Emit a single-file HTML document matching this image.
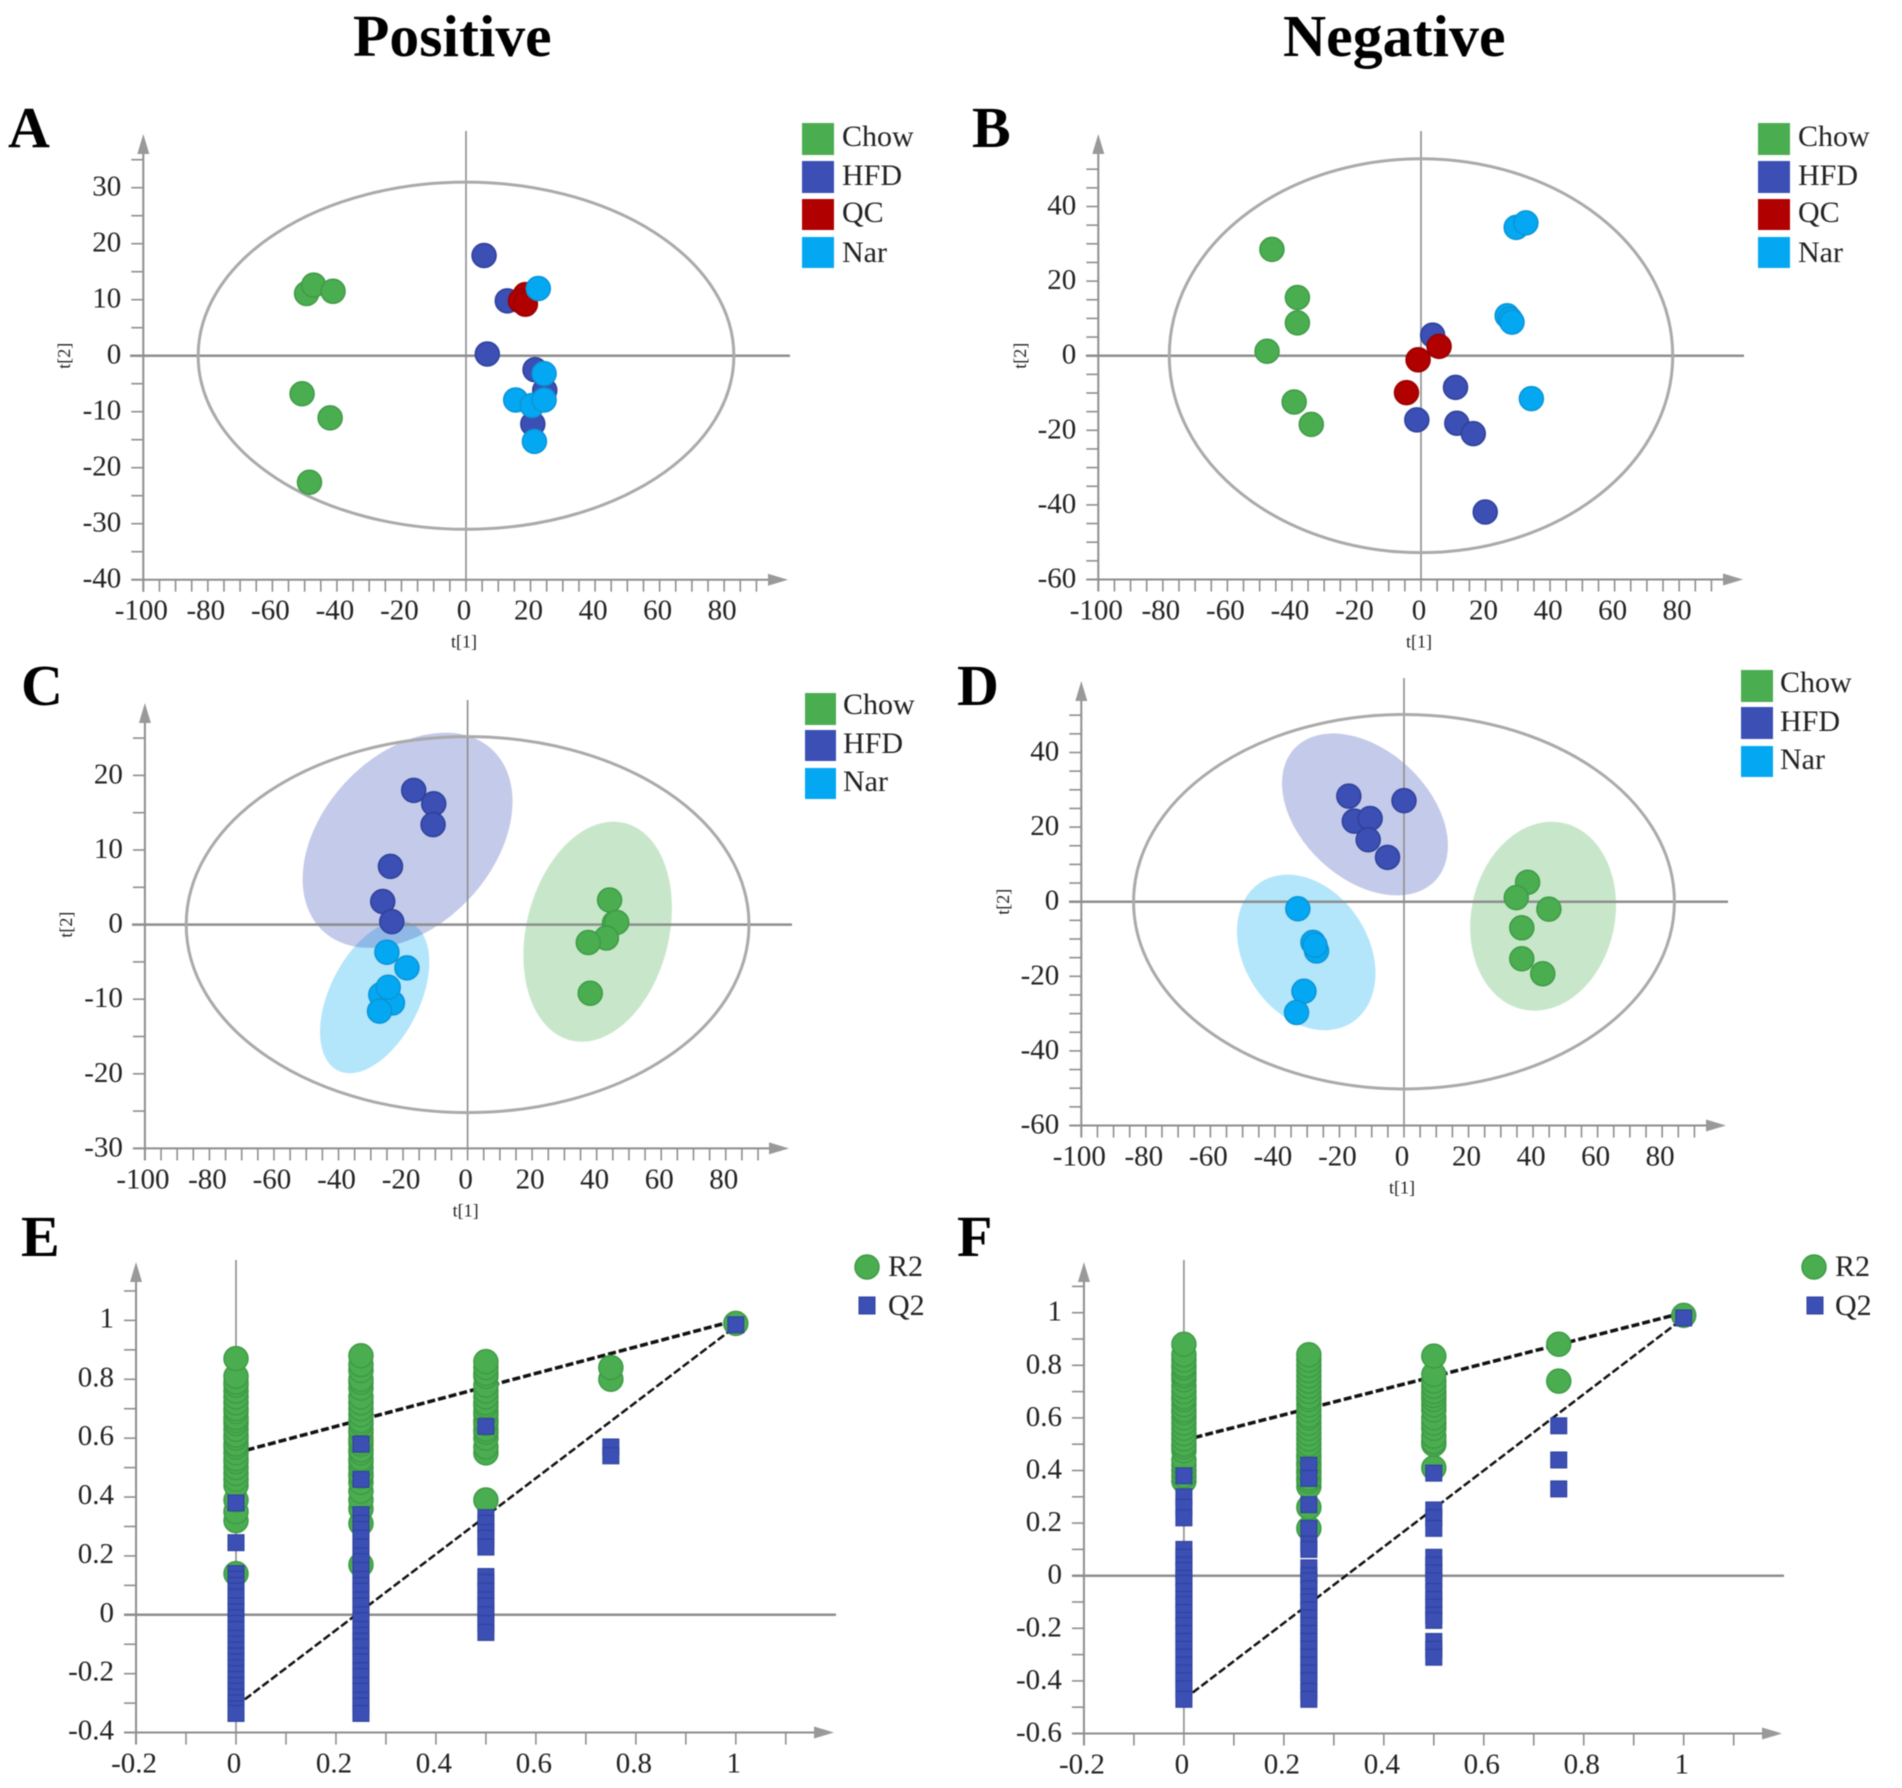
<!DOCTYPE html>
<html lang="en">
<head>
<meta charset="utf-8">
<title>OPLS-DA score and permutation plots</title>
<style>
html,body{margin:0;padding:0;background:#fff;width:1902px;height:1788px;overflow:hidden}
svg{display:block;filter:blur(0.5px)}
text{font-family:"Liberation Serif","DejaVu Serif",serif;fill:#222}
.letter{font-size:58px;font-weight:bold;fill:#000}
.leg{font-size:30px}
</style>
</head>
<body>
<svg id="figure" xmlns="http://www.w3.org/2000/svg" width="1902" height="1788" viewBox="0 0 1902 1788">
  <text x="353" y="56" font-size="59.6" font-weight="bold" style="fill:#000">Positive</text>
  <text x="1283" y="56" font-size="59.8" font-weight="bold" style="fill:#000">Negative</text>
  <text class="letter" x="8" y="147">A</text>
  <text class="letter" x="972" y="147">B</text>
  <text class="letter" x="21" y="705">C</text>
  <text class="letter" x="957" y="705">D</text>
  <text class="letter" x="21" y="1256">E</text>
  <text class="letter" x="957" y="1256">F</text>

  <g id="panel-a"></g>
  <g id="panel-b"></g>
  <g id="panel-c"></g>
  <g id="panel-d"></g>
  <g id="panel-e"></g>
  <g id="panel-f"></g>

  <g>
    <rect x="802" y="123" width="32" height="32" fill="#4aae50"/>
    <text class="leg" x="842" y="146">Chow</text>
    <rect x="802" y="161" width="32" height="32" fill="#3b4fb5"/>
    <text class="leg" x="842" y="185">HFD</text>
    <rect x="802" y="199" width="32" height="31" fill="#b00000"/>
    <text class="leg" x="842" y="222">QC</text>
    <rect x="802" y="237" width="32" height="31" fill="#04a8f2"/>
    <text class="leg" x="842" y="262">Nar</text>
  </g>
  <g>
    <rect x="1758" y="123" width="32" height="32" fill="#4aae50"/>
    <text class="leg" x="1798" y="146">Chow</text>
    <rect x="1758" y="161" width="32" height="32" fill="#3b4fb5"/>
    <text class="leg" x="1798" y="185">HFD</text>
    <rect x="1758" y="199" width="32" height="31" fill="#b00000"/>
    <text class="leg" x="1798" y="222">QC</text>
    <rect x="1758" y="237" width="32" height="31" fill="#04a8f2"/>
    <text class="leg" x="1798" y="262">Nar</text>
  </g>
  <g>
    <rect x="805" y="693" width="31" height="32" fill="#4aae50"/>
    <text class="leg" x="843" y="714">Chow</text>
    <rect x="805" y="730" width="31" height="31" fill="#3b4fb5"/>
    <text class="leg" x="843" y="753">HFD</text>
    <rect x="805" y="768" width="31" height="31" fill="#04a8f2"/>
    <text class="leg" x="843" y="791">Nar</text>
  </g>
  <g>
    <rect x="1741" y="670" width="32" height="32" fill="#4aae50"/>
    <text class="leg" x="1780" y="692">Chow</text>
    <rect x="1741" y="707" width="32" height="32" fill="#3b4fb5"/>
    <text class="leg" x="1780" y="731">HFD</text>
    <rect x="1741" y="746" width="32" height="31" fill="#04a8f2"/>
    <text class="leg" x="1780" y="769">Nar</text>
  </g>
  <g>
    <circle cx="867" cy="1267" r="12" fill="#4aae50" stroke="#3f9a46" stroke-width="1.5"/>
    <text class="leg" x="888" y="1276">R2</text>
    <rect x="859" y="1297" width="16" height="17" fill="#3b4fb5" stroke="#2f4199" stroke-width="1"/>
    <text class="leg" x="888" y="1315">Q2</text>
  </g>
  <g>
    <circle cx="1814" cy="1267" r="12" fill="#4aae50" stroke="#3f9a46" stroke-width="1.5"/>
    <text class="leg" x="1835" y="1276">R2</text>
    <rect x="1807" y="1297" width="16" height="17" fill="#3b4fb5" stroke="#2f4199" stroke-width="1"/>
    <text class="leg" x="1835" y="1315">Q2</text>
  </g>
</svg>

<script>
// ---------- tick values ----------
const t1TickLabels = [-100,-80,-60,-40,-20,0,20,40,60,80];
const aT2TickLabels = [30,20,10,0,-10,-20,-30,-40];
const bT2TickLabels = [40,20,0,-20,-40,-60];
const cT2TickLabels = [20,10,0,-10,-20,-30];
const dT2TickLabels = [40,20,0,-20,-40,-60];
const permXTickLabels = [-0.2,0,0.2,0.4,0.6,0.8,1];
const eYTickLabels = [1,0.8,0.6,0.4,0.2,0,-0.2,-0.4];
const fYTickLabels = [1,0.8,0.6,0.4,0.2,0,-0.2,-0.4,-0.6];

// ---------- panel A scores ----------
const aChowT1 = [-49.4,-47.2,-41.2,-50.8,-42.1,-48.5];
const aChowT2 = [11.1,12.6,11.5,-6.8,-11.1,-22.6];
const aHfdT1 = [5.6,12.8,6.6,21.4,24.4,20.7];
const aHfdT2 = [17.9,9.8,0.3,-2.5,-6.2,-12.2];
const aQcT1 = [18.4,16.9,18.4];
const aQcT2 = [10.9,9.8,9.2];
const aNarT1 = [22.4,24.2,15.4,20.5,24.2,21.2];
const aNarT2 = [12,-3.2,-7.9,-8.9,-7.9,-15.3];

// ---------- panel B scores ----------
const bChowT1 = [-46.2,-38.3,-38.3,-47.7,-39.3,-34];
const bChowT2 = [28.5,15.6,8.8,1.2,-12.4,-18.4];
const bHfdT1 = [3.6,10.7,-1.3,11.1,16.2,19.9];
const bHfdT2 = [5.5,-8.5,-17.2,-18.1,-20.9,-41.9];
const bQcT1 = [5.6,-0.9,-4.5];
const bQcT2 = [2.5,-1.1,-9.9];
const bNarT1 = [29.5,32.5,26.7,27.6,28.2,34.2];
const bNarT2 = [34.4,35.6,10.7,9.8,9,-11.5];

// ---------- panel C scores ----------
const cChowT1 = [44,45.5,46.2,43,37.4,38];
const cChowT2 = [3.3,0.2,0.3,-1.8,-2.4,-9.2];
const cHfdT1 = [-16.7,-10.5,-10.7,-23.9,-26.3,-23.5];
const cHfdT2 = [18,16.2,13.4,7.8,3.1,0.4];
const cNarT1 = [-25,-18.8,-26.9,-23.3,-24.6,-27.3];
const cNarT2 = [-3.7,-5.8,-9.4,-10.5,-8.4,-11.6];

// ---------- panel D scores ----------
const dChowT1 = [38.3,34.8,44.9,36.5,36.5,43];
const dChowT2 = [5.2,1.1,-2,-7,-15.3,-19.3];
const dHfdT1 = [-17.1,-15.4,-10.5,-11.1,-5.1,0];
const dHfdT2 = [28.3,21.6,22.3,16.6,11.9,27.1];
const dNarT1 = [-32.9,-28.2,-27.1,-27.6,-31,-33.3];
const dNarT2 = [-1.9,-10.9,-13.2,-11.7,-24,-29.7];

// ---------- panel E permutation test ----------
const permLevels = [0,0.25,0.5,0.75,1];
const eR2 = [
  [0.14,0.32,0.35,0.39,0.44,0.46,0.48,0.5,0.52,0.53,0.55,0.57,0.58,0.6,0.61,0.63,0.65,0.66,0.67,0.69,0.7,0.72,0.74,0.76,0.78,0.79,0.81,0.87],
  [0.17,0.31,0.36,0.39,0.42,0.45,0.47,0.48,0.5,0.52,0.53,0.55,0.56,0.58,0.59,0.6,0.62,0.63,0.65,0.66,0.68,0.7,0.72,0.74,0.77,0.79,0.8,0.83,0.85,0.88],
  [0.39,0.55,0.57,0.6,0.62,0.63,0.65,0.66,0.68,0.69,0.71,0.72,0.74,0.76,0.78,0.81,0.82,0.84,0.86],
  [0.8,0.84],
  [0.99]
];
const eQ2 = [
  [0.38,0.245,0.14,0.12,0.1,0.08,0.06,0.03,0.01,-0.01,-0.03,-0.05,-0.08,-0.1,-0.12,-0.14,-0.16,-0.18,-0.2,-0.22,-0.24,-0.26,-0.28,-0.3,-0.32,-0.335],
  [0.58,0.46,0.34,0.31,0.29,0.26,0.23,0.2,0.18,0.15,0.12,0.1,0.08,0.05,0.03,0,-0.02,-0.05,-0.07,-0.09,-0.11,-0.14,-0.16,-0.19,-0.21,-0.24,-0.26,-0.29,-0.31,-0.335],
  [0.64,0.33,0.31,0.28,0.26,0.23,0.13,0.11,0.08,0.05,0.03,0,-0.03,-0.06],
  [0.57,0.54],
  [0.985]
];
const eR2Trend = [0.55,1];
const eQ2Trend = [-0.31,0.98];

// ---------- panel F permutation test ----------
const fR2 = [
  [0.36,0.38,0.4,0.42,0.44,0.475,0.49,0.5,0.52,0.54,0.56,0.58,0.6,0.62,0.63,0.65,0.67,0.68,0.7,0.72,0.745,0.76,0.77,0.79,0.8,0.82,0.84,0.88],
  [0.18,0.26,0.34,0.36,0.37,0.39,0.4,0.42,0.43,0.45,0.46,0.48,0.5,0.52,0.54,0.56,0.58,0.6,0.61,0.63,0.65,0.67,0.68,0.7,0.72,0.74,0.76,0.78,0.8,0.82,0.84],
  [0.41,0.5,0.51,0.53,0.56,0.58,0.6,0.63,0.65,0.67,0.685,0.7,0.72,0.74,0.765,0.835],
  [0.74,0.88],
  [0.99]
];
const fQ2 = [
  [0.38,0.3,0.26,0.22,0.1,0.07,0.04,0.02,-0.01,-0.03,-0.06,-0.09,-0.11,-0.14,-0.17,-0.19,-0.22,-0.25,-0.28,-0.31,-0.34,-0.37,-0.4,-0.43,-0.47],
  [0.42,0.37,0.27,0.18,0.12,0.1,0.03,0,-0.02,-0.05,-0.08,-0.1,-0.13,-0.16,-0.19,-0.22,-0.25,-0.28,-0.31,-0.34,-0.37,-0.4,-0.44,-0.47],
  [0.39,0.25,0.22,0.18,0.07,0.04,0.01,-0.02,-0.06,-0.09,-0.12,-0.15,-0.17,-0.25,-0.28,-0.31],
  [0.57,0.44,0.33],
  [0.98]
];
const fR2Trend = [0.515,1];
const fQ2Trend = [-0.47,0.98];

// ---------- drawing ----------
const SVG_NS = 'http://www.w3.org/2000/svg';
const COLORS = {chow:'#4aae50',hfd:'#3b4fb5',qc:'#b00000',nar:'#04a8f2'};
const EDGES = {chow:'#3f9a46',hfd:'#2f4199',qc:'#9a0000',nar:'#0a94d6'};
const AXIS = '#8e8e8e';

function mk(tag, attrs, parent, txt) {
  const el = document.createElementNS(SVG_NS, tag);
  for (const k in attrs) el.setAttribute(k, attrs[k]);
  if (txt !== undefined) el.textContent = txt;
  parent.appendChild(el);
  return el;
}
function fmt(v) { return String(v); }

function drawAxes(g, p, xLabels, yLabels, sx, sy) {
  const left = sx(p.xMin), bottom = sy(p.yMin);
  const cross = mk('line', {x1:p.hLeft,y1:sy(0),x2:p.hRight,y2:sy(0),stroke:AXIS,'stroke-width':2.5}, g);
  
  
  const vert = mk('line', {x1:sx(0),y1:p.vTop,x2:sx(0),y2:bottom,stroke:AXIS,'stroke-width':1.6}, g);
  
  
  const xAxis = mk('line', {x1:left-12,y1:bottom,x2:p.xEnd-16,y2:bottom,stroke:AXIS,'stroke-width':2}, g);
  
  
  const yAxis = mk('line', {x1:left,y1:bottom+12,x2:left,y2:p.yEnd+16,stroke:AXIS,'stroke-width':2}, g);
  
  
  const xArrow = mk('polygon', {points:`${p.xEnd},${bottom} ${p.xEnd-20},${bottom-6} ${p.xEnd-20},${bottom+6}`,fill:'#999'}, g);
  
  
  const yArrow = mk('polygon', {points:`${left},${p.yEnd} ${left-6},${p.yEnd+20} ${left+6},${p.yEnd+20}`,fill:'#999'}, g);
  
  

  const nx = Math.round((p.xMax - p.xMin) / p.xStep);
  for (let i = 0; i <= nx; i++) {
    const x = sx(p.xMin + i * p.xStep);
    const t = mk('line', {x1:x,y1:bottom,x2:x,y2:bottom+12,stroke:AXIS,'stroke-width':1.6}, g);
    
    
  }
  const ny = Math.round((p.yMax - p.yMin) / p.yStep);
  for (let i = 0; i <= ny; i++) {
    const y = sy(p.yMin + i * p.yStep);
    const t = mk('line', {x1:left-12,y1:y,x2:left,y2:y,stroke:AXIS,'stroke-width':1.6}, g);
    
    
  }
  xLabels.forEach(v => {
    const t = mk('text', {x:sx(v)-2,y:bottom+40,'text-anchor':'middle','font-size':29}, g, fmt(v));
    
    
  });
  yLabels.forEach(v => {
    const t = mk('text', {x:left-22,y:sy(v)+p.labelDy,'text-anchor':'end','font-size':29}, g, fmt(v));
    
    
  });
}

function drawAxisTitles(g, sx, sy, bottom, yTitleX) {
  const xt = mk('text', {x:sx(0)-2,y:bottom+68,'text-anchor':'middle','font-size':18}, g, 't[1]');
  
  
  const cy = sy(0);
  const yt = mk('text', {x:yTitleX,y:cy,'text-anchor':'middle','font-size':18,transform:`rotate(-90 ${yTitleX} ${cy})`}, g, 't[2]');
  
  
}

function drawHotelling(g, sx, sy, rx, ry) {
  const e = mk('ellipse', {cx:sx(0),cy:sy(0),rx:Math.abs(sx(rx)-sx(0)),ry:Math.abs(sy(ry)-sy(0)),fill:'none',stroke:'#aaa','stroke-width':3}, g);
  
  
}

function drawGroupEllipse(g, sx, sy, group, t1, t2, a, b, rot) {
  const cx = sx(t1), cy = sy(t2);
  const e = mk('ellipse', {cx:cx,cy:cy,rx:a,ry:b,fill:COLORS[group],'fill-opacity':0.3,transform:`rotate(${rot} ${cx} ${cy})`}, g);
  
  
}

function drawPoints(g, sx, sy, group, xs, ys) {
  xs.forEach((v, i) => {
    const c = mk('circle', {cx:sx(v),cy:sy(ys[i]),r:12,fill:COLORS[group],stroke:EDGES[group],'stroke-width':1.5}, g);
    
    
  });
}

function scorePanel(id, p, yLabels, rx, ry, yTitleX) {
  const g = document.getElementById(id);
  const sx = v => p.x0 + v * p.xs;
  const sy = v => p.y0 - v * p.ys;
  return {g, sx, sy, draw() {
    drawAxes(g, p, t1TickLabels, yLabels, sx, sy);
    drawAxisTitles(g, sx, sy, sy(p.yMin), yTitleX);
    drawHotelling(g, sx, sy, rx, ry);
  }};
}

function permPanel(id, p, yLabels, r2, q2, r2Trend, q2Trend) {
  const g = document.getElementById(id);
  const sx = v => p.x0 + v * p.xs;
  const sy = v => p.y0 - v * p.ys;
  drawAxes(g, p, permXTickLabels, yLabels, sx, sy);
  const l1 = mk('line', {x1:sx(0),y1:sy(r2Trend[0]),x2:sx(1),y2:sy(r2Trend[1]),stroke:'#111','stroke-width':3.5,'stroke-dasharray':'8 3'}, g);
  
  
  const l2 = mk('line', {x1:sx(0),y1:sy(q2Trend[0]),x2:sx(1),y2:sy(q2Trend[1]),stroke:'#111','stroke-width':2.5,'stroke-dasharray':'8 3'}, g);
  
  
  permLevels.forEach((lvl, i) => {
    r2[i].forEach(v => {
      const c = mk('circle', {cx:sx(lvl),cy:sy(v),r:12,fill:COLORS.chow,stroke:EDGES.chow,'stroke-width':1.5}, g);
      
      
    });
  });
  permLevels.forEach((lvl, i) => {
    q2[i].forEach(v => {
      const s = mk('rect', {x:sx(lvl)-8,y:sy(v)-8,width:16,height:16,fill:COLORS.hfd,stroke:EDGES.hfd,'stroke-width':1}, g);
      
      
    });
  });
}

// Panel A
const pa = scorePanel('panel-a', {x0:466,xs:3.227,y0:355.7,ys:5.6,xMin:-100,xMax:90,xStep:5,yMin:-40,yMax:35,yStep:5,hLeft:130,hRight:790,vTop:131,xEnd:788,yEnd:134,labelDy:8}, aT2TickLabels, 83, 31, 70);
pa.draw();
drawPoints(pa.g, pa.sx, pa.sy, 'chow', aChowT1, aChowT2);
drawPoints(pa.g, pa.sx, pa.sy, 'hfd', aHfdT1, aHfdT2);
drawPoints(pa.g, pa.sx, pa.sy, 'qc', aQcT1, aQcT2);
drawPoints(pa.g, pa.sx, pa.sy, 'nar', aNarT1, aNarT2);

// Panel B
const pb = scorePanel('panel-b', {x0:1421,xs:3.227,y0:355.7,ys:3.73,xMin:-100,xMax:90,xStep:5,yMin:-60,yMax:50,yStep:5,hLeft:1086,hRight:1744,vTop:131,xEnd:1743,yEnd:134,labelDy:8}, bT2TickLabels, 78, 52.8, 1026);
pb.draw();
drawPoints(pb.g, pb.sx, pb.sy, 'chow', bChowT1, bChowT2);
drawPoints(pb.g, pb.sx, pb.sy, 'hfd', bHfdT1, bHfdT2);
drawPoints(pb.g, pb.sx, pb.sy, 'qc', bQcT1, bQcT2);
drawPoints(pb.g, pb.sx, pb.sy, 'nar', bNarT1, bNarT2);

// Panel C
const pc = scorePanel('panel-c', {x0:467.6,xs:3.227,y0:924.6,ys:7.46,xMin:-100,xMax:90,xStep:5,yMin:-30,yMax:25,yStep:5,hLeft:132,hRight:792,vTop:700,xEnd:789,yEnd:703,labelDy:8}, cT2TickLabels, 87.2, 25.2, 72);
drawGroupEllipse(pc.g, pc.sx, pc.sy, 'nar', -28.8, -9.7, 82.3, 45, -63.3);
drawGroupEllipse(pc.g, pc.sx, pc.sy, 'hfd', -18.6, 11.3, 124, 85, -47);
drawGroupEllipse(pc.g, pc.sx, pc.sy, 'chow', 40.3, -0.95, 112, 71.3, -76);
pc.draw();
drawPoints(pc.g, pc.sx, pc.sy, 'chow', cChowT1, cChowT2);
drawPoints(pc.g, pc.sx, pc.sy, 'hfd', cHfdT1, cHfdT2);
drawPoints(pc.g, pc.sx, pc.sy, 'nar', cNarT1, cNarT2);

// Panel D
const pd = scorePanel('panel-d', {x0:1404,xs:3.227,y0:901.7,ys:3.73,xMin:-100,xMax:90,xStep:5,yMin:-60,yMax:50,yStep:5,hLeft:1069,hRight:1728,vTop:678,xEnd:1726,yEnd:681,labelDy:8}, dT2TickLabels, 83.8, 50.2, 1009);
drawGroupEllipse(pd.g, pd.sx, pd.sy, 'hfd', -12.1, 23.4, 96.5, 64.3, 43.2);
drawGroupEllipse(pd.g, pd.sx, pd.sy, 'nar', -30.3, -13.6, 83.7, 62, 56.7);
drawGroupEllipse(pd.g, pd.sx, pd.sy, 'chow', 43.1, -3.9, 95.4, 71.8, -78);
pd.draw();
drawPoints(pd.g, pd.sx, pd.sy, 'chow', dChowT1, dChowT2);
drawPoints(pd.g, pd.sx, pd.sy, 'hfd', dHfdT1, dHfdT2);
drawPoints(pd.g, pd.sx, pd.sy, 'nar', dNarT1, dNarT2);

// Panels E and F
permPanel('panel-e', {x0:236,xs:499.8,y0:1614.8,ys:294.4,xMin:-0.2,xMax:1.1,xStep:0.1,yMin:-0.4,yMax:1.1,yStep:0.1,hLeft:124,hRight:836,vTop:1260,xEnd:834,yEnd:1262,labelDy:7}, eYTickLabels, eR2, eQ2, eR2Trend, eQ2Trend);
permPanel('panel-f', {x0:1183.9,xs:499.8,y0:1575.7,ys:263,xMin:-0.2,xMax:1.1,xStep:0.1,yMin:-0.6,yMax:1.1,yStep:0.1,hLeft:1072,hRight:1784,vTop:1260,xEnd:1782,yEnd:1262,labelDy:8}, fYTickLabels, fR2, fQ2, fR2Trend, fQ2Trend);
</script>
</body>
</html>
